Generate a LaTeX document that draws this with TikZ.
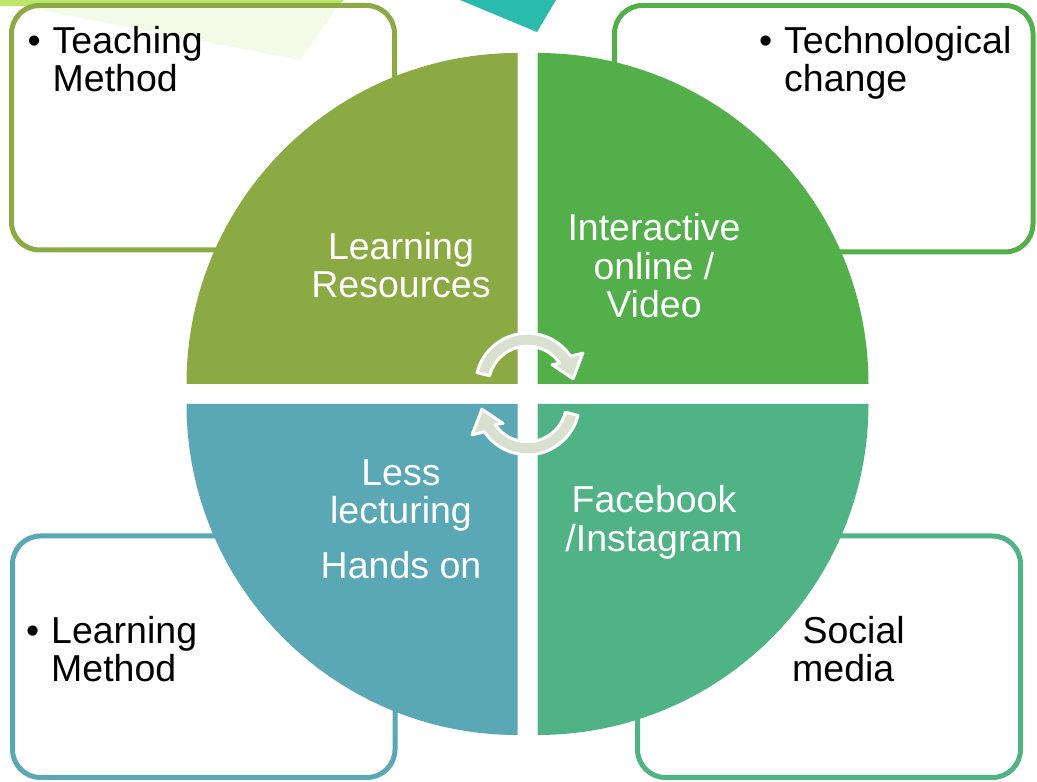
\documentclass[tikz,border=0pt]{standalone}
\usepackage{fontspec}
\setmainfont{Liberation Sans}
\usepackage{tikz}
\usetikzlibrary{calc}

\definecolor{resgreen}{HTML}{8BAA44}
\definecolor{techgreen}{HTML}{52AF4A}
\definecolor{learnteal}{HTML}{5AA8B5}
\definecolor{socialgreen}{HTML}{4FB386}
\definecolor{turngrey}{HTML}{D9E0D0}
\definecolor{topsliver}{HTML}{BCE66A}
\definecolor{topshade}{HTML}{F4F9E8}
\definecolor{topteal}{HTML}{2BBBAD}

\begin{document}
\begin{tikzpicture}[x=1pt, y=1pt]
\tikzstyle{outline} = [line width=5pt, rounded corners=28pt]
\tikzstyle{boxtext} = [inner sep=0pt, align=left, anchor=base west, font=\fontsize{37.5}{38.5}\selectfont]
\tikzstyle{pietext} = [inner sep=0pt, align=center, anchor=base, text=white, font=\fontsize{37.5}{38.5}\selectfont]
\tikzstyle{turnarrow} = [fill=turngrey, draw=white, line width=3pt, line join=round]

\useasboundingbox (0,0) rectangle (1037,782);

% shapes at the top edge
\fill[topsliver] (0,782) -- (344,782) -- (338,776) -- (0,776) -- cycle;
\fill[topshade] (30,774) -- (338,776) -- (300,722) -- cycle;
\fill[topteal] (460,782) -- (556,782) -- (537,750) -- cycle;

% outer boxes
\draw[outline, draw=resgreen] (11.5,532) rectangle (394.5,776.5);
\draw[outline, draw=techgreen] (614.5,530) rectangle (1033,776.5);
\draw[outline, draw=learnteal] (12.5,4.5) rectangle (395,246);
\draw[outline, draw=socialgreen] (637.5,4.5) rectangle (1020.5,246);

% four quarters
\coordinate (c) at (527.5,388);
\foreach \a/\dx/\dy/\col in {90/-10/10/resgreen, 0/10/10/techgreen, 180/-10/-10/learnteal, 270/10/-10/socialgreen}
  \fill[\col] ($(c)+(\dx,\dy)$) -- ++(\a:331) arc[start angle=\a, delta angle=90, radius=331] -- cycle;

% turning arrows in the middle
\foreach \rot in {0,180} {
  \begin{scope}[shift={(c)}, rotate=\rot, shift={(0,8.8)}]
    \filldraw[turnarrow] (166:52) arc[start angle=166, end angle=34, radius=52] -- (30:64) -- (8:46)
      -- (40:32) -- (34:39) arc[start angle=34, end angle=166, radius=39] -- cycle;
  \end{scope}
}

% base = last line
\node[pietext] (resources) at (401,484.3) {Learning\\Resources};
\node[pietext] (interactive) at (654,464.1) {Interactive\\online /\\Video};
\node[pietext] (lecturing) at (401,203.3) {Less\\lecturing\\[16.5pt]Hands on};
\node[pietext] (facebook) at (654,230.9) {Facebook\\/Instagram};

\node[boxtext] (teaching) at (52.5,690.2) {\llap{\textbullet\hspace{12pt}}Teaching\\Method};
\node[boxtext] (technological) at (784,690.2) {\llap{\textbullet\hspace{12pt}}Technological\\change};
\node[boxtext] (learning) at (51,100.3) {\llap{\textbullet\hspace{12pt}}Learning\\Method};
\node[boxtext] (social) at (792,100.3) {~Social\\media};

\end{tikzpicture}
\end{document}
